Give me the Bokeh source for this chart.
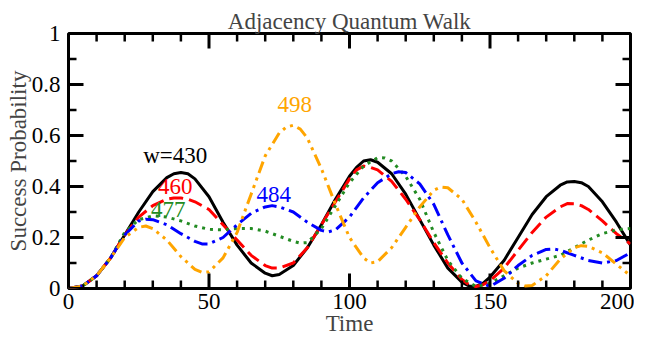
from bokeh.plotting import figure
from bokeh.models import Range1d, FixedTicker, Label, Arrow, ColumnDataSource
from bokeh.embed import file_html
from bokeh.resources import INLINE

t430 = [0, 5, 10, 15, 20, 25, 30, 35, 37.5, 40, 42.5, 45, 50, 55, 60, 65, 70, 72.5, 75, 80, 85, 90, 95, 100, 102.5, 105, 107.5, 110,
        115, 120, 125, 130, 135, 140, 142.5, 145, 147.5, 150, 155, 160, 165, 170, 175, 177.5, 180, 182.5, 185, 190, 195, 200]
w430 = [0.0, 0.01, 0.05, 0.12, 0.21, 0.30, 0.38, 0.435, 0.45, 0.455, 0.45, 0.43, 0.36, 0.26, 0.17, 0.10, 0.06, 0.05, 0.055, 0.09, 0.16, 0.25, 0.35, 0.44, 0.475, 0.50, 0.505, 0.495,
        0.45, 0.37, 0.27, 0.17, 0.08, 0.025, 0.01, 0.008, 0.02, 0.045, 0.11, 0.20, 0.29, 0.36, 0.405, 0.418, 0.42, 0.415, 0.40, 0.34, 0.26, 0.17]

t460 = [0, 5, 10, 15, 20, 25, 30, 35, 37.5, 40, 42.5, 45, 50, 55, 60, 65, 70, 72.5, 75, 80, 85, 90, 95, 100, 102.5, 105, 107.5, 110,
        115, 120, 125, 130, 135, 140, 142.5, 145, 147.5, 150, 155, 160, 165, 170, 175, 177.5, 180, 182.5, 185, 190, 195, 200]
w460 = [0.0, 0.01, 0.05, 0.12, 0.21, 0.28, 0.325, 0.35, 0.355, 0.355, 0.35, 0.34, 0.31, 0.25, 0.19, 0.13, 0.09, 0.08, 0.08, 0.10, 0.16, 0.25, 0.34, 0.43, 0.465, 0.48, 0.475, 0.465,
        0.42, 0.35, 0.27, 0.18, 0.10, 0.035, 0.015, 0.008, 0.015, 0.03, 0.08, 0.15, 0.22, 0.28, 0.32, 0.333, 0.332, 0.325, 0.31, 0.265, 0.215, 0.175]

t477 = [0, 5, 10, 15, 20, 25, 30, 35, 40, 45, 50, 55, 60, 65, 70, 75, 80, 82.5, 85, 90, 95, 100, 105, 110, 112.5,
        115, 120, 125, 130, 135, 140, 145, 150, 155, 160, 165, 170, 175, 180, 185, 190, 195, 200]
w477 = [0.0, 0.01, 0.05, 0.12, 0.22, 0.27, 0.285, 0.28, 0.265, 0.245, 0.232, 0.23, 0.235, 0.235, 0.225, 0.205, 0.185, 0.178, 0.18, 0.235, 0.325, 0.415, 0.48, 0.513, 0.512,
        0.50, 0.44, 0.35, 0.22, 0.11, 0.04, 0.008, 0.02, 0.05, 0.08, 0.10, 0.115, 0.13, 0.16, 0.19, 0.215, 0.23, 0.235]

t484 = [0, 5, 10, 15, 20, 25, 27.5, 30, 35, 40, 45, 47.5, 50, 55, 60, 65, 70, 72.5, 75, 80, 85, 90, 92.5, 95, 100, 105, 110, 115, 117.5,
        120, 125, 130, 135, 140, 145, 150, 155, 160, 165, 170, 172.5, 175, 180, 185, 190, 195, 200]
w484 = [0.0, 0.01, 0.05, 0.12, 0.21, 0.265, 0.272, 0.27, 0.25, 0.215, 0.185, 0.175, 0.175, 0.20, 0.25, 0.295, 0.32, 0.325, 0.32, 0.30, 0.26, 0.228, 0.222, 0.23, 0.28, 0.355, 0.415, 0.45, 0.458,
        0.455, 0.41, 0.33, 0.21, 0.10, 0.03, 0.008, 0.04, 0.09, 0.13, 0.153, 0.155, 0.15, 0.13, 0.11, 0.10, 0.11, 0.14]

t498 = [0, 5, 10, 15, 20, 25, 27.5, 30, 35, 40, 45, 47.5, 50, 55, 60, 65, 70, 75, 77.5, 80, 82.5, 85, 90, 95, 100, 105, 107.5, 110,
        115, 120, 125, 130, 132.5, 135, 140, 145, 150, 155, 160, 162.5, 165, 170, 175, 180, 182.5, 185, 190, 195, 200]
w498 = [0.0, 0.01, 0.05, 0.12, 0.20, 0.24, 0.245, 0.235, 0.19, 0.125, 0.075, 0.063, 0.065, 0.12, 0.22, 0.37, 0.52, 0.61, 0.633, 0.64, 0.625, 0.59, 0.47, 0.33, 0.20, 0.12, 0.10, 0.105,
        0.16, 0.24, 0.32, 0.385, 0.398, 0.395, 0.35, 0.26, 0.16, 0.07, 0.02, 0.01, 0.012, 0.05, 0.115, 0.16, 0.168, 0.165, 0.14, 0.095, 0.05]

series_names = ["w=430", "460", "477", "484", "498"]
series_times = [t430, t460, t477, t484, t498]
series_values = [w430, w460, w477, w484, w498]
series_colors = ["black", "#ff0000", "#228b22", "#0000ff", "#ffa500"]
series_dash = ["solid", "14 6", "3 5", "14 5 3 5", "12 5 3 5 3 5"]
label_x = [38, 38, 35.5, 73, 80.5]
label_y = [0.52, 0.40, 0.31, 0.37, 0.72]

x_ticks = [0, 50, 100, 150, 200]
x_minor = [v for v in range(0, 201, 10) if v % 50 != 0]
y_ticks = [0, 0.2, 0.4, 0.6, 0.8, 1.0]
y_tick_labels = ["0", "0.2", "0.4", "0.6", "0.8", "1"]
y_minor = [0.1, 0.3, 0.5, 0.7, 0.9]

FONT = "Liberation Serif"
FS = "23px"
X0, X1, Y0, Y1 = 0, 200, 0, 1
FW, FH = 562, 255

p = figure(output_backend="svg", toolbar_location=None,
           x_range=Range1d(X0, X1), y_range=Range1d(Y0, Y1),
           title="Adjacency Quantum Walk",
           frame_width=FW, frame_height=FH,
           min_border_left=68, min_border_right=4, min_border_top=33, min_border_bottom=36)

p.title.text_font = FONT
p.title.text_font_size = FS
p.title.text_font_style = "normal"
p.title.align = "center"
p.title.standoff = 0
p.title.offset = 0

p.grid.visible = False
p.outline_line_color = "black"
p.outline_line_width = 3
p.background_fill_color = "white"
p.border_fill_color = "white"

for name, ts, vals, col, dash in zip(series_names, series_times, series_values, series_colors, series_dash):
    p.line(ts, vals, line_color=col, line_width=3, line_dash=dash)

# inward ticks on all four sides, drawn as head-less arrow annotations (px lengths -> data units)
MAJ, MIN = 15, 8
kx = (X1 - X0) / FW
ky = (Y1 - Y0) / FH
for xt, yt, length, w in ((x_ticks, y_ticks, MAJ, 3), (x_minor, y_minor, MIN, 2.5)):
    xs0, ys0, xs1, ys1 = [], [], [], []
    for t in xt:
        xs0 += [t, t]
        xs1 += [t, t]
        ys0 += [Y0, Y1]
        ys1 += [Y0 + length * ky, Y1 - length * ky]
    for t in yt:
        xs0 += [X0, X1]
        xs1 += [X0 + length * kx, X1 - length * kx]
        ys0 += [t, t]
        ys1 += [t, t]
    src = ColumnDataSource(dict(x0=xs0, y0=ys0, x1=xs1, y1=ys1))
    p.add_layout(Arrow(end=None, start=None, source=src, x_start="x0", y_start="y0",
                       x_end="x1", y_end="y1", line_color="black", line_width=w))

for name, col, lx, ly in zip(series_names, series_colors, label_x, label_y):
    p.add_layout(Label(x=lx, y=ly, text=name, text_color=col, text_font=FONT,
                       text_font_size=FS, text_align="center", text_baseline="middle"))

def style_axis(ax, ticks):
    ax.ticker = FixedTicker(ticks=ticks, minor_ticks=[])
    ax.axis_line_color = None
    ax.major_tick_line_color = None
    ax.minor_tick_line_color = None
    ax.major_tick_in = 0
    ax.major_tick_out = 0
    ax.minor_tick_in = 0
    ax.minor_tick_out = 0
    ax.major_label_text_font = FONT
    ax.major_label_text_font_size = FS
    ax.major_label_text_color = "black"
    ax.axis_label_text_font = FONT
    ax.axis_label_text_font_size = FS
    ax.axis_label_text_font_style = "normal"

xa = p.xaxis[0]
style_axis(xa, x_ticks)
xa.major_label_standoff = 5
xa.axis_label = "Time"
xa.axis_label_standoff = -1

ya = p.yaxis[0]
style_axis(ya, y_ticks)
ya.major_label_overrides = {t: s for t, s in zip(y_ticks, y_tick_labels)}
ya.major_label_standoff = 8
ya.axis_label = "Success Probability"
ya.axis_label_standoff = -2

open("out.html", "w").write(file_html(p, INLINE))
